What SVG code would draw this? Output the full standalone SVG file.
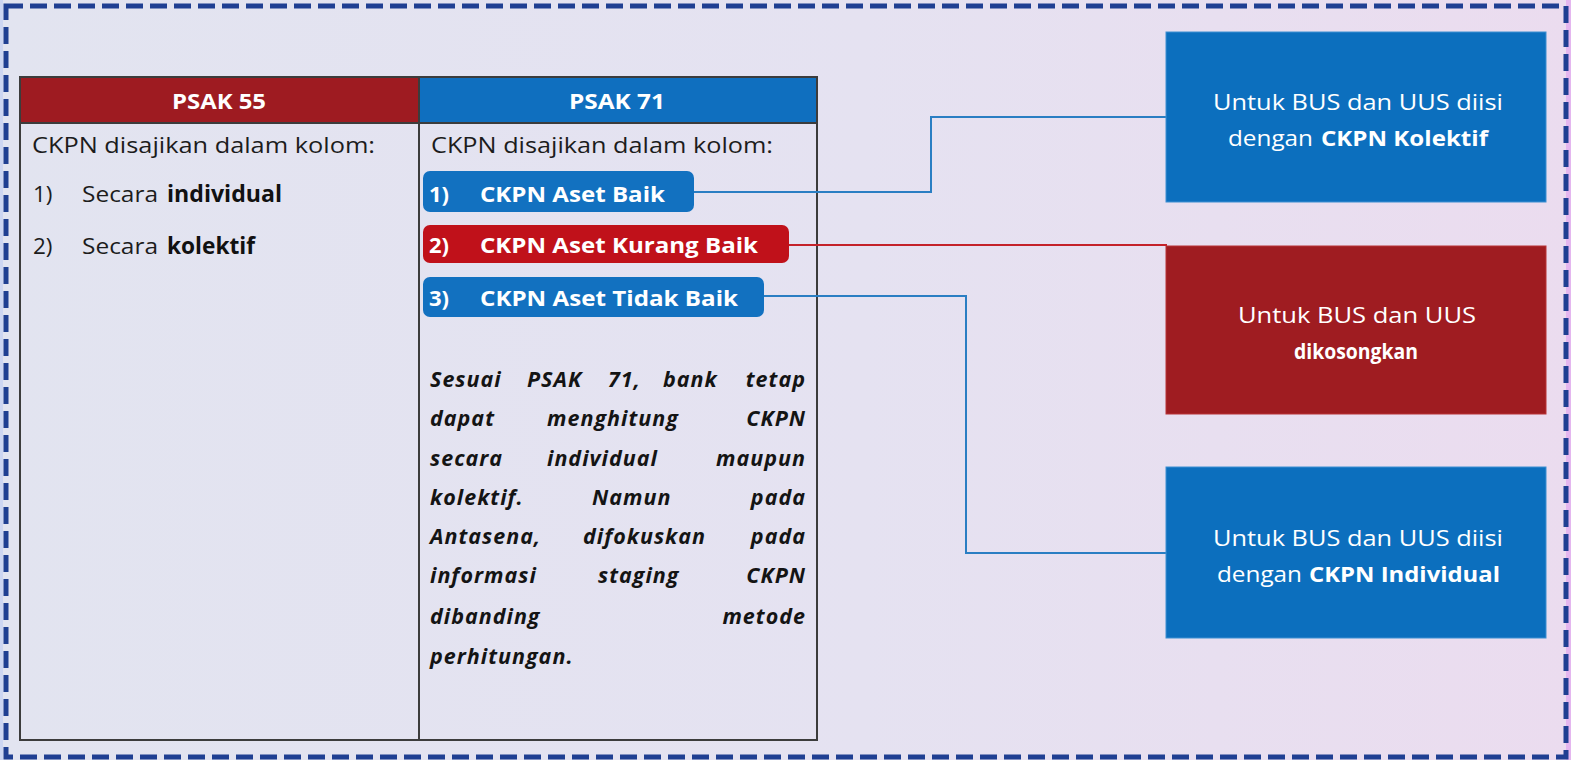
<svg xmlns="http://www.w3.org/2000/svg" width="1571" height="760" viewBox="0 0 1571 760">
  <defs>
    <linearGradient id="bg" x1="0" y1="0" x2="1" y2="0">
      <stop offset="0" stop-color="#e2e4f0"/>
      <stop offset="0.55" stop-color="#e5e2f1"/>
      <stop offset="1" stop-color="#ebdcef"/>
    </linearGradient>
    <style>
      .reg{font-family:"Open Sans","Liberation Sans",sans-serif;font-size:22.5px;fill:#1c1c1c}
      .bold{font-family:"Open Sans","Liberation Sans",sans-serif;font-size:22.5px;font-weight:700;fill:#111}
      .wb{font-family:"Open Sans","Liberation Sans",sans-serif;font-size:22px;font-weight:700;fill:#ffffff}
      .wr{font-family:"Open Sans","Liberation Sans",sans-serif;font-size:22px;fill:#ffffff}
      .it{font-family:"Open Sans","Liberation Sans",sans-serif;font-size:21.5px;font-weight:700;font-style:italic;fill:#141414;letter-spacing:1px}
      .tbl{fill:none;stroke:#3c3c3c;stroke-width:2}
      .conB{fill:none;stroke:#2a7ec3;stroke-width:2}
      .conR{fill:none;stroke:#c4222a;stroke-width:2}
    </style>
  </defs>

  <rect x="0" y="0" width="1571" height="760" fill="url(#bg)"/>
  <rect x="0" y="0" width="3" height="760" fill="#cdd6f2"/>
  <rect x="1566" y="0" width="5" height="760" fill="#e4b6ef"/>
  <rect x="6" y="6" width="1560" height="751" fill="none" stroke="#1f3f92" stroke-width="5" stroke-dasharray="17 7"/>

  <!-- table -->
  <g id="table">
    <rect x="20" y="77" width="399" height="46" fill="#9e1b21"/>
    <rect x="419" y="77" width="398" height="46" fill="#0f6fbf"/>
    <rect class="tbl" x="20" y="77" width="797" height="663"/>
    <line class="tbl" x1="419" y1="77" x2="419" y2="740"/>
    <line class="tbl" x1="20" y1="123" x2="817" y2="123"/>
    <text class="wb" x="219" y="109" text-anchor="middle" font-size="23" textLength="94" lengthAdjust="spacingAndGlyphs">PSAK 55</text>
    <text class="wb" x="617" y="109" text-anchor="middle" font-size="23" textLength="96" lengthAdjust="spacingAndGlyphs">PSAK 71</text>
  </g>

  <g id="psak55">
    <text class="reg" x="32" y="153" textLength="343" lengthAdjust="spacingAndGlyphs">CKPN disajikan dalam kolom:</text>
    <text class="reg" x="33" y="202" font-size="23">1)</text>
    <text class="reg" x="82" y="202" textLength="76" lengthAdjust="spacingAndGlyphs">Secara</text>
    <text class="bold" x="167" y="202" textLength="115" lengthAdjust="spacingAndGlyphs">individual</text>
    <text class="reg" x="33" y="254">2)</text>
    <text class="reg" x="82" y="254" textLength="76" lengthAdjust="spacingAndGlyphs">Secara</text>
    <text class="bold" x="167" y="254" textLength="88" lengthAdjust="spacingAndGlyphs">kolektif</text>
  </g>

  <g id="psak71">
    <text class="reg" x="431" y="153" textLength="342" lengthAdjust="spacingAndGlyphs">CKPN disajikan dalam kolom:</text>
  </g>

  <g id="pill1">
    <rect x="423" y="171" width="271" height="41" rx="7" fill="#1271c0"/>
    <text class="wb" x="429" y="202">1)</text>
    <text class="wb" x="480" y="202" textLength="185" lengthAdjust="spacingAndGlyphs">CKPN Aset Baik</text>
  </g>
  <g id="pill2">
    <rect x="423" y="225" width="366" height="38" rx="7" fill="#c0111a"/>
    <text class="wb" x="429" y="253">2)</text>
    <text class="wb" x="480" y="253" textLength="278" lengthAdjust="spacingAndGlyphs">CKPN Aset Kurang Baik</text>
  </g>
  <g id="pill3">
    <rect x="423" y="277" width="341" height="40" rx="7" fill="#1271c0"/>
    <text class="wb" x="429" y="306">3)</text>
    <text class="wb" x="480" y="306" textLength="258" lengthAdjust="spacingAndGlyphs">CKPN Aset Tidak Baik</text>
  </g>

  <g id="note">
    <text class="it" x="430" y="387">Sesuai</text>
    <text class="it" x="527" y="387">PSAK</text>
    <text class="it" x="608" y="387">71,</text>
    <text class="it" x="663" y="387">bank</text>
    <text class="it" x="806" y="387" text-anchor="end">tetap</text>

    <text class="it" x="430" y="426">dapat</text>
    <text class="it" x="547" y="426">menghitung</text>
    <text class="it" x="806" y="426" text-anchor="end">CKPN</text>

    <text class="it" x="430" y="466">secara</text>
    <text class="it" x="547" y="466">individual</text>
    <text class="it" x="806" y="466" text-anchor="end">maupun</text>

    <text class="it" x="430" y="505">kolektif.</text>
    <text class="it" x="592" y="505">Namun</text>
    <text class="it" x="806" y="505" text-anchor="end">pada</text>

    <text class="it" x="430" y="544">Antasena,</text>
    <text class="it" x="583" y="544">difokuskan</text>
    <text class="it" x="806" y="544" text-anchor="end">pada</text>

    <text class="it" x="430" y="583">informasi</text>
    <text class="it" x="598" y="583">staging</text>
    <text class="it" x="806" y="583" text-anchor="end">CKPN</text>

    <text class="it" x="430" y="624">dibanding</text>
    <text class="it" x="806" y="624" text-anchor="end">metode</text>

    <text class="it" x="430" y="664">perhitungan.</text>
  </g>

  <g id="connectors">
    <path class="conB" d="M694 192 H931 V117 H1167"/>
    <path class="conR" d="M789 245 H1167"/>
    <path class="conB" d="M764 296 H966 V553 H1167"/>
  </g>

  <g id="box1">
    <rect x="1166" y="32" width="380" height="170" fill="#0c6fbe" stroke="#3d90d2" stroke-width="1"/>
    <text class="wr" x="1213" y="110" textLength="290" lengthAdjust="spacingAndGlyphs">Untuk BUS dan UUS diisi</text>
    <text class="wr" x="1228" y="146" textLength="85" lengthAdjust="spacingAndGlyphs">dengan</text>
    <text class="wb" x="1321" y="146" textLength="167" lengthAdjust="spacingAndGlyphs">CKPN Kolektif</text>
  </g>

  <g id="box2">
    <rect x="1166" y="246" width="380" height="168" fill="#9f1c21" stroke="#b83236" stroke-width="1"/>
    <text class="wr" x="1238" y="323" textLength="238" lengthAdjust="spacingAndGlyphs">Untuk BUS dan UUS</text>
    <text class="wb" x="1356" y="359" text-anchor="middle" font-size="23" textLength="124" lengthAdjust="spacingAndGlyphs">dikosongkan</text>
  </g>

  <g id="box3">
    <rect x="1166" y="467" width="380" height="171" fill="#0c6fbe" stroke="#3d90d2" stroke-width="1"/>
    <text class="wr" x="1213" y="546" textLength="290" lengthAdjust="spacingAndGlyphs">Untuk BUS dan UUS diisi</text>
    <text class="wr" x="1217" y="582" textLength="85" lengthAdjust="spacingAndGlyphs">dengan</text>
    <text class="wb" x="1309" y="582" textLength="191" lengthAdjust="spacingAndGlyphs">CKPN Individual</text>
  </g>
</svg>
